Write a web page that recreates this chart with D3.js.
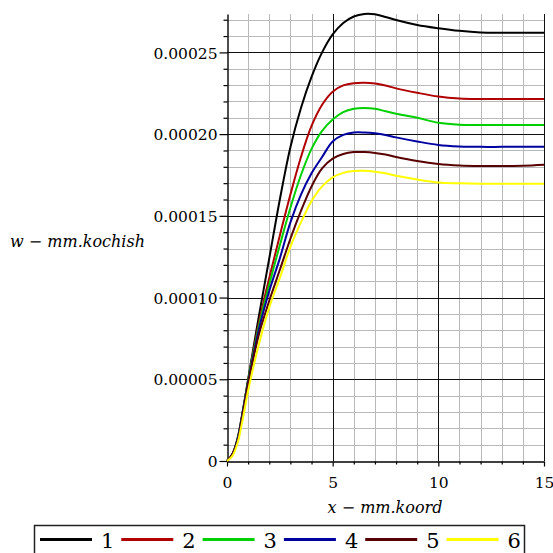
<!DOCTYPE html>
<html>
<head>
<meta charset="utf-8">
<script src="https://cdn.jsdelivr.net/npm/d3@7"></script>
<style>
  body { margin: 0; background: #fff; }
  svg { display: block; }
</style>
</head>
<body>
<script>
// Deflection w (mm) along the coordinate x (mm) for six cases
const xs = [0, 0.25, 0.5, 0.75, 1, 1.5, 2, 2.5, 3, 3.5, 4, 4.5, 5, 5.5, 6, 6.5, 7, 7.5, 8, 9, 10, 11, 12, 13, 14, 15];
const w1 = [0, 0.000004, 0.000014, 0.000031, 0.00005, 0.000088, 0.000124, 0.00016, 0.000192, 0.000216, 0.000235, 0.00025, 0.000261, 0.000268, 0.000272, 0.0002735, 0.0002733, 0.0002717, 0.0002698, 0.0002668, 0.0002648, 0.0002632, 0.0002622, 0.000262, 0.000262, 0.000262];
const w2 = [0, 0.000004, 0.000013, 0.00003, 0.000049, 0.000084, 0.000112, 0.000138, 0.000163, 0.000186, 0.000205, 0.000218, 0.000226, 0.0002298, 0.0002312, 0.0002315, 0.000231, 0.0002297, 0.000228, 0.0002253, 0.000223, 0.0002218, 0.0002215, 0.0002215, 0.0002215, 0.0002215];
const w3 = [0, 0.000004, 0.000013, 0.00003, 0.000049, 0.000082, 0.000108, 0.000132, 0.000155, 0.000175, 0.000191, 0.000202, 0.000209, 0.0002135, 0.0002155, 0.000216, 0.0002155, 0.000214, 0.0002125, 0.00021, 0.000207, 0.0002058, 0.0002056, 0.0002056, 0.0002056, 0.0002056];
const w4 = [0, 0.000004, 0.000013, 0.00003, 0.000048, 0.00008, 0.000104, 0.000124, 0.000146, 0.000163, 0.000176, 0.000186, 0.0001955, 0.0001995, 0.000201, 0.000201, 0.0002005, 0.0001995, 0.000198, 0.0001955, 0.0001934, 0.0001925, 0.0001922, 0.0001922, 0.0001922, 0.0001922];
const w5 = [0, 0.000004, 0.000012, 0.000029, 0.000047, 0.000077, 0.000098, 0.000117, 0.000136, 0.000153, 0.000168, 0.000179, 0.000185, 0.0001878, 0.000189, 0.000189, 0.0001885, 0.0001875, 0.000186, 0.0001835, 0.0001817, 0.0001808, 0.0001805, 0.0001805, 0.0001806, 0.0001812];
const w6 = [0, 0.000003, 0.000011, 0.000026, 0.000043, 0.000071, 0.000094, 0.000112, 0.000131, 0.000146, 0.000159, 0.000168, 0.0001735, 0.0001763, 0.0001774, 0.0001776, 0.000177, 0.000176, 0.0001745, 0.0001722, 0.0001704, 0.0001699, 0.0001697, 0.0001697, 0.0001697, 0.0001697];

const seriesLabels = ["1", "2", "3", "4", "5", "6"];
const xTickValues = [0, 5, 10, 15];
const xTickLabels = ["0", "5", "10", "15"];
const yTickValues = [0, 0.00005, 0.0001, 0.00015, 0.0002, 0.00025];
const yTickLabels = ["0", "0.00005", "0.00010", "0.00015", "0.00020", "0.00025"];

const colors = ["#000000", "#b00000", "#00d000", "#0000a0", "#580000", "#ffff00"];

const W = 553, H = 553;
const FONT = "DejaVu Serif";

const svg = d3.select("body").append("svg")
  .attr("width", W).attr("height", H)
  .style("background", "#fff");

const series = [w1, w2, w3, w4, w5, w6];
const yMax = d3.max(series, s => d3.max(s));

const x = d3.scaleLinear().domain([0, 15]).range([227, 544]);
const y = d3.scaleLinear().domain([0, yMax]).range([461, 14]);

// grid: light lines every unit / 1e-5, dark lines on the labelled steps
const grid = svg.append("g").attr("shape-rendering", "crispEdges");
const xMinor = d3.range(1, 15).filter(v => v % 5 !== 0);
const xMajor = [5, 10, 15];
const yStep = 0.00001;
const ySteps = d3.range(1, Math.floor(yMax / yStep + 1e-6) + 1);
const yMinor = ySteps.filter(k => k % 5 !== 0).map(k => k * yStep);
const yMajor = ySteps.filter(k => k % 5 === 0).map(k => k * yStep);

grid.selectAll(".gxm").data(xMinor).join("line")
  .attr("x1", d => Math.round(x(d)) + 0.5).attr("x2", d => Math.round(x(d)) + 0.5)
  .attr("y1", y(yMax)).attr("y2", y(0))
  .attr("stroke", "#b9b9b9").attr("stroke-width", 1.3);
grid.selectAll(".gym").data(yMinor).join("line")
  .attr("x1", x(0)).attr("x2", x(15))
  .attr("y1", d => Math.round(y(d)) + 0.5).attr("y2", d => Math.round(y(d)) + 0.5)
  .attr("stroke", "#b9b9b9").attr("stroke-width", 1.3);
grid.selectAll(".gxM").data(xMajor).join("line")
  .attr("x1", d => Math.round(x(d)) + 0.5).attr("x2", d => Math.round(x(d)) + 0.5)
  .attr("y1", y(yMax)).attr("y2", y(0))
  .attr("stroke", "#111").attr("stroke-width", 1);
grid.selectAll(".gyM").data(yMajor).join("line")
  .attr("x1", x(0)).attr("x2", x(15))
  .attr("y1", d => Math.round(y(d)) + 0.5).attr("y2", d => Math.round(y(d)) + 0.5)
  .attr("stroke", "#111").attr("stroke-width", 1);

// axes
const yAxis = d3.axisLeft(y)
  .tickValues(yTickValues)
  .tickFormat((d, i) => yTickLabels[i])
  .tickSize(8).tickSizeOuter(0).tickPadding(2);
const yMinorAxis = d3.axisLeft(y)
  .tickValues(yMinor).tickFormat("").tickSize(4).tickSizeOuter(0);
const xAxis = d3.axisBottom(x)
  .tickValues(xTickValues)
  .tickFormat((d, i) => xTickLabels[i])
  .tickSize(5).tickSizeOuter(0).tickPadding(10);
const xMinorAxis = d3.axisBottom(x)
  .tickValues(xMinor).tickFormat("").tickSize(3).tickSizeOuter(0);

const gy = svg.append("g").attr("transform", `translate(${Math.round(x(0)) + 0.5},0)`).call(yAxis);
svg.append("g").attr("transform", `translate(${Math.round(x(0)) + 0.5},0)`).call(yMinorAxis)
  .select(".domain").remove();
const gx = svg.append("g").attr("transform", `translate(0,${Math.round(y(0)) + 0.5})`).call(xAxis);
svg.append("g").attr("transform", `translate(0,${Math.round(y(0)) + 0.5})`).call(xMinorAxis)
  .select(".domain").remove();

svg.selectAll(".domain").attr("stroke", "#000").attr("stroke-width", 1.4);
svg.selectAll(".tick line").attr("stroke", "#000").attr("stroke-width", 1.2);
svg.selectAll(".tick text")
  .attr("font-family", FONT)
  .attr("font-size", 15.5)
  .attr("fill", "#000");
gy.selectAll(".tick text").attr("dy", "0.36em");

// curves
const line = d3.line()
  .x((d, i) => x(xs[i]))
  .y(d => y(d))
  .curve(d3.curveCatmullRom.alpha(0.5));

svg.append("g").selectAll("path").data(series).join("path")
  .attr("d", d => line(d))
  .attr("fill", "none")
  .attr("stroke", (d, i) => colors[i])
  .attr("stroke-width", 2)
  .attr("stroke-linejoin", "round");

// axis titles
const yTitle = svg.append("text")
  .attr("font-family", FONT)
  .attr("x", 10).attr("y", 247)
  .attr("font-size", 16).attr("fill", "#000");
yTitle.append("tspan").attr("font-style", "italic").text("w");
yTitle.append("tspan").text(" \u2212 ");
yTitle.append("tspan").attr("font-style", "italic").text("mm.kochish");

const xTitle = svg.append("text")
  .attr("font-family", FONT)
  .attr("x", 385).attr("y", 513).attr("text-anchor", "middle")
  .attr("font-size", 16).attr("fill", "#000");
xTitle.append("tspan").attr("font-style", "italic").text("x");
xTitle.append("tspan").text(" \u2212 ");
xTitle.append("tspan").attr("font-style", "italic").text("mm.koord");

// legend
const legend = svg.append("g");
legend.append("rect")
  .attr("x", 34.5).attr("y", 525.5).attr("width", 490).attr("height", 50)
  .attr("fill", "none").attr("stroke", "#222").attr("stroke-width", 1.5);
const items = legend.selectAll("g.item").data(seriesLabels).join("g")
  .attr("transform", (d, i) => `translate(${40 + i * 81.3},0)`);
items.append("line")
  .attr("x1", 0).attr("x2", 52).attr("y1", 539.5).attr("y2", 539.5)
  .attr("stroke", (d, i) => colors[i]).attr("stroke-width", 3);
items.append("text")
  .attr("font-family", FONT)
  .attr("x", 61).attr("y", 548)
  .attr("font-size", 21).attr("fill", "#000")
  .text(d => d);
</script>
</body>
</html>
